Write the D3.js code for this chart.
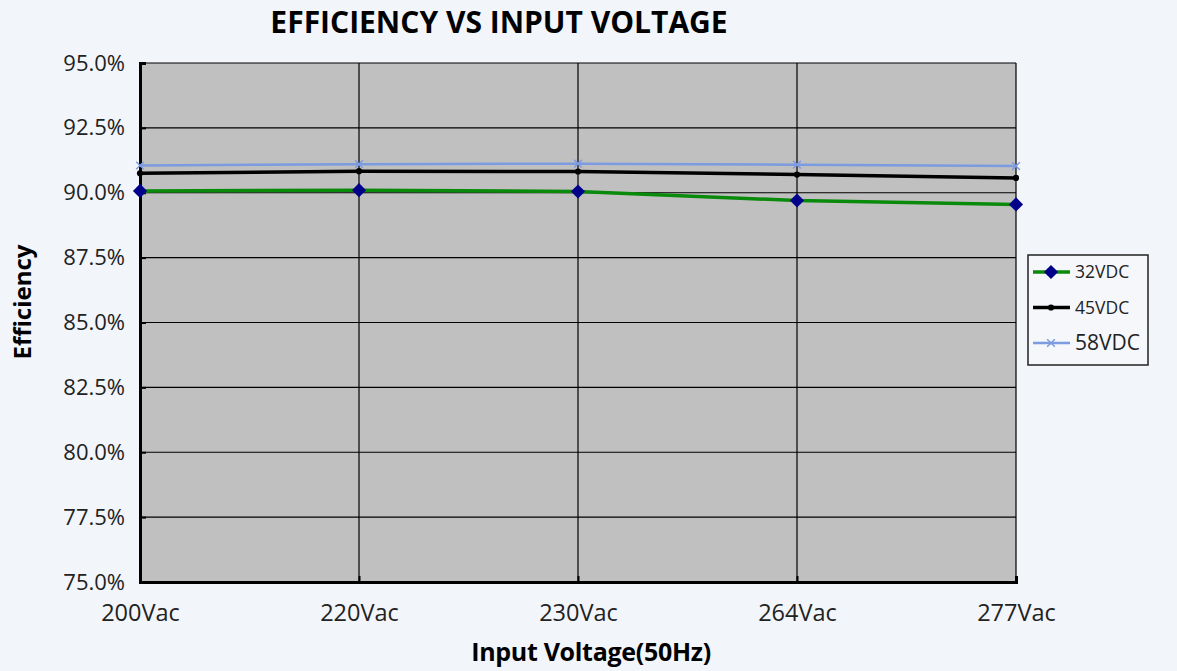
<!DOCTYPE html>
<html>
<head>
<meta charset="utf-8">
<script src="https://cdn.jsdelivr.net/npm/d3@7"></script>
<style>
  body { margin: 0; background: #f2f5fa; }
  svg { display: block; }
</style>
</head>
<body>
<svg class="chart" width="1177" height="671"></svg>
<script>
var categories = ['200Vac', '220Vac', '230Vac', '264Vac', '277Vac'];
var seriesNames = ['32VDC', '45VDC', '58VDC'];
var v32 = [90.07, 90.1, 90.05, 89.7, 89.55];
var v45 = [90.75, 90.83, 90.82, 90.7, 90.57];
var v58 = [91.05, 91.1, 91.12, 91.08, 91.03];
var yTicks = [75, 77.5, 80, 82.5, 85, 87.5, 90, 92.5, 95];

var colors = ['#0a8a0a', '#000000', '#7c9be0'];
var markerColors = ['#00008b', '#000000', '#7c9be0'];
var font = '"Open Sans", "DejaVu Sans", sans-serif';

var svg = d3.select('.chart');

/* Scales */
var xScale = d3.scalePoint()
  .domain(categories)
  .range([140, 1016]);

var yScale = d3.scaleLinear()
  .domain([75, 95])
  .range([582, 63]);

/* Plot area */
svg.append('rect')
  .attr('x', 140).attr('y', 63)
  .attr('width', 876).attr('height', 519)
  .attr('fill', '#c0c0c0');

/* Grid */
svg.append('g')
  .selectAll('line')
  .data(yTicks)
  .join('line')
  .attr('x1', 140).attr('x2', 1016)
  .attr('y1', function (d) { return yScale(d); })
  .attr('y2', function (d) { return yScale(d); })
  .attr('stroke', '#000').attr('stroke-width', 1.2);

svg.append('g')
  .selectAll('line')
  .data(categories)
  .join('line')
  .attr('x1', function (d) { return xScale(d); })
  .attr('x2', function (d) { return xScale(d); })
  .attr('y1', 63).attr('y2', 582)
  .attr('stroke', '#000').attr('stroke-width', 1.2);

/* Axes */
var yAxis = d3.axisLeft(yScale)
  .tickValues(yTicks)
  .tickSize(-6)
  .tickPadding(15)
  .tickFormat(function (d) { return d.toFixed(1) + '%'; });

var yG = svg.append('g')
  .attr('transform', 'translate(140,0)')
  .call(yAxis);
yG.select('.domain').attr('stroke', '#000').attr('stroke-width', 3);
yG.selectAll('.tick line').attr('stroke', '#000').attr('stroke-width', 2);
yG.selectAll('text')
  .attr('font-family', font).attr('font-size', 22).attr('fill', '#222');

var xAxis = d3.axisBottom(xScale)
  .tickSize(-6)
  .tickPadding(22);

var xG = svg.append('g')
  .attr('transform', 'translate(0,582)')
  .call(xAxis);
xG.select('.domain').attr('stroke', '#000').attr('stroke-width', 3);
xG.selectAll('.tick line').attr('stroke', '#000').attr('stroke-width', 2);
xG.selectAll('text')
  .attr('font-family', font).attr('font-size', 23.5).attr('fill', '#222');

/* Lines */
var allSeries = [v32, v45, v58];
var lineGen = d3.line()
  .x(function (d, i) { return xScale(categories[i]); })
  .y(function (d) { return yScale(d); });

svg.append('g')
  .selectAll('path')
  .data(allSeries)
  .join('path')
  .attr('d', lineGen)
  .attr('fill', 'none')
  .attr('stroke', function (d, i) { return colors[i]; })
  .attr('stroke-width', function (d, i) { return i === 2 ? 2.5 : 3.5; });

/* Markers */
var symbols = [d3.symbolSquare, d3.symbolCircle, d3.symbolX];
var symbolSizes = [100, 30, 40];

function drawMarker(sel, i) {
  sel.attr('d', d3.symbol().type(symbols[i]).size(symbolSizes[i]))
    .attr('fill', i === 2 ? 'none' : markerColors[i])
    .attr('stroke', i === 2 ? markerColors[i] : 'none')
    .attr('stroke-width', 1.5);
}

allSeries.forEach(function (vals, si) {
  svg.append('g')
    .selectAll('path')
    .data(vals)
    .join('path')
    .attr('transform', function (d, i) {
      return 'translate(' + xScale(categories[i]) + ',' + yScale(d) + ')' +
        (si === 0 ? ' rotate(45)' : '');
    })
    .call(drawMarker, si);
});

/* Title and axis labels */
svg.append('text')
  .attr('x', 499).attr('y', 33)
  .attr('text-anchor', 'middle')
  .attr('font-family', font).attr('font-weight', 'bold').attr('font-size', 30)
  .text('EFFICIENCY VS INPUT VOLTAGE');

svg.append('text')
  .attr('transform', 'translate(31,302) rotate(-90)')
  .attr('text-anchor', 'middle')
  .attr('font-family', font).attr('font-weight', 'bold').attr('font-size', 24)
  .text('Efficiency');

svg.append('text')
  .attr('x', 591).attr('y', 661)
  .attr('text-anchor', 'middle')
  .attr('font-family', font).attr('font-weight', 'bold').attr('font-size', 25)
  .attr('letter-spacing', -0.3)
  .text('Input Voltage(50Hz)');

/* Legend */
var legend = svg.append('g').attr('transform', 'translate(1028,255)');
legend.append('rect')
  .attr('width', 120).attr('height', 110)
  .attr('fill', '#f5f7fb').attr('stroke', '#222').attr('stroke-width', 1.5);

var items = legend.selectAll('g.item')
  .data(seriesNames)
  .join('g')
  .classed('item', true)
  .attr('transform', function (d, i) { return 'translate(0,' + (17 + i * 35.5) + ')'; });

items.append('line')
  .attr('x1', 5).attr('x2', 42)
  .attr('stroke', function (d, i) { return colors[i]; })
  .attr('stroke-width', function (d, i) { return i === 2 ? 2.5 : 3.5; });

items.append('path')
  .attr('transform', function (d, i) { return 'translate(23,0)' + (i === 0 ? ' rotate(45)' : ''); })
  .each(function (d, i) { d3.select(this).call(drawMarker, i); });

items.append('text')
  .attr('x', 47).attr('dy', '0.35em')
  .attr('font-family', font)
  .attr('font-size', function (d, i) { return i === 2 ? 21 : 17.5; })
  .attr('fill', '#222')
  .text(function (d) { return d; });
</script>
</body>
</html>
